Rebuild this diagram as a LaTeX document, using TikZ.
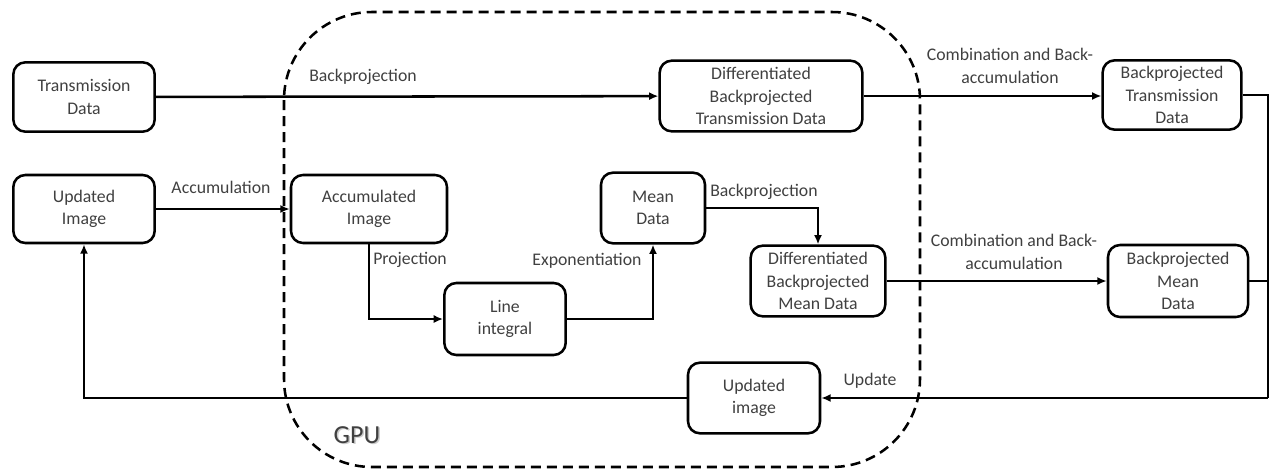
\documentclass[tikz,border=0pt]{standalone}
\usepackage{fontspec}
\setmainfont{Carlito}
\usetikzlibrary{arrows.meta}

\begin{document}
\begin{tikzpicture}[->, >={Latex[length=7pt,width=6pt]}, line width=1.9pt, x=0.75pt, y=-0.75pt]
		\tikzstyle{box}=[draw,rounded corners=9pt,fill=white,align=center,inner sep=1pt,text=black!75,font=\fontsize{13.3}{16.9}\selectfont]
		\tikzstyle{lbl}=[align=center,inner sep=0pt,text=black!75,font=\fontsize{13.3}{16.9}\selectfont]
		\useasboundingbox (0,0) rectangle (1270,471);
	
		% GPU region
		\draw[-,dash pattern=on 7.5pt off 4.5pt,rounded corners=66pt] (284,12) rectangle (920,467);
		\node[lbl,text=black!20,font=\fontsize{19.5}{22}\selectfont] (gpushadow) at (358.5,436.5) {GPU};
		\node[lbl,font=\fontsize{19.5}{22}\selectfont] (gpu) at (357,435) {GPU};
	
		\draw (84,97) node[box,minimum width=106pt,minimum height=52pt] (td) {Transmission\\Data};
		\draw (84,209) node[box,minimum width=106pt,minimum height=51pt] (ui) {Updated\\Image};
		\draw (369,209) node[box,minimum width=117pt,minimum height=51pt] (ai) {Accumulated\\Image};
		\draw (761,96) node[box,minimum width=152pt,minimum height=53pt] (dbtd) {Differentiated\\Backprojected\\Transmission Data};
		\draw (653,208) node[box,minimum width=78pt,minimum height=53pt] (md) {Mean\\Data};
		\draw (505,319) node[box,minimum width=91pt,minimum height=54pt] (li) {Line\\integral};
		\draw (818,281) node[box,minimum width=101pt,minimum height=53pt] (dbmd) {Differentiated\\Backprojected\\Mean Data};
		\draw (754,398) node[box,minimum width=99pt,minimum height=53pt] (uib) {Updated\\image};
		\draw (1172,95) node[box,minimum width=104pt,minimum height=52pt] (bptd) {Backprojected\\Transmission\\Data};
		\draw (1178,281) node[box,minimum width=105pt,minimum height=54pt] (bpmd) {Backprojected\\Mean\\Data};
		\coordinate (corner) at (1268,398);
	
		\draw (td) -- (dbtd);
		\draw (ui) -- (ai);
		\draw (ai.south) |- (li.west);
		\draw (li.east) -| (md.south);
		\draw (md.east) -| (dbmd.north);
		\draw (dbtd.east) -- (bptd.west |- dbtd.east);
		\draw (dbmd) -- (bpmd);
		\draw[-] (bptd.east) -| (corner);
		\draw[-] (bpmd.east) -- (bpmd.east -| corner);
		\draw (corner) -- (uib.east);
		\draw (uib.west) -| (ui.south);
	
		\node[lbl] (l1) at (363,77) {Backprojection};
		\node[lbl] (l2) at (221,187) {Accumulation};
		\node[lbl,anchor=west] (l3) at (372,260) {Projection};
		\node[lbl] (l4) at (587,261) {Exponentiation};
		\node[lbl,anchor=west] (l5) at (709,192) {Backprojection};
		\node[lbl] (l6) at (1010,66) {Combination and Back-\\accumulation};
		\node[lbl] (l7) at (1014,252) {Combination and Back-\\accumulation};
		\node[lbl] (l8) at (870,381) {Update};
	\end{tikzpicture}
\end{document}
